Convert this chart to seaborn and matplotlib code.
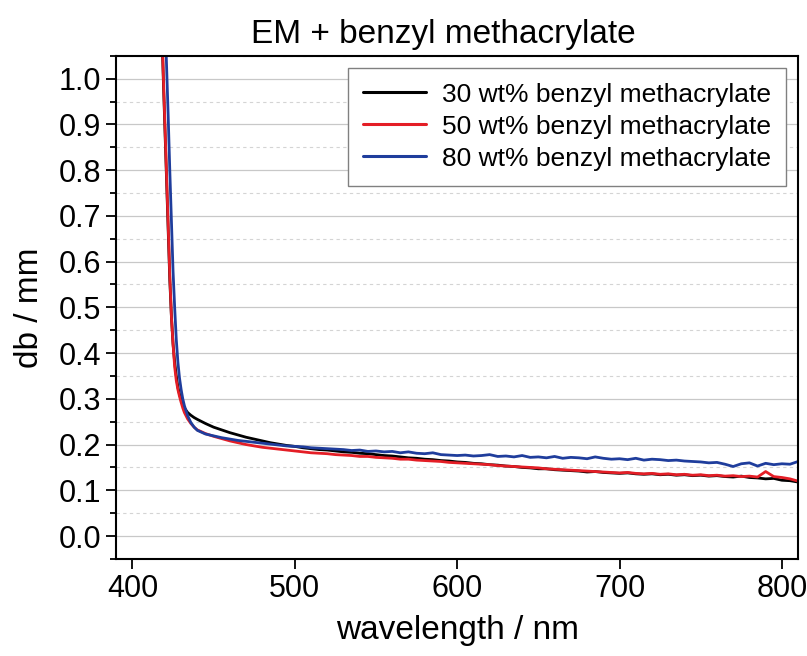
import matplotlib
matplotlib.use('Agg')

import numpy as np
import pandas as pd
import matplotlib.pyplot as plt
from matplotlib.ticker import MultipleLocator
import seaborn as sns

# Wavelength grid (nm): dense near the absorption edge, 5 nm steps afterwards
wavelength = [416, 418, 419, 420, 421, 422, 423, 424, 425, 426,
              427, 428, 429, 430, 431, 432, 434, 436, 438, 440,
              445, 450, 455, 460, 465, 470, 475, 480, 485, 490,
              495, 500] + list(range(505, 815, 5))

# 30 wt% benzyl methacrylate
db_30 = [1.40, 1.12, 1.00, 0.89, 0.78, 0.67, 0.56, 0.48, 0.42, 0.38,
         0.35, 0.325, 0.31, 0.298, 0.288, 0.280, 0.270, 0.264, 0.259, 0.255,
         0.246, 0.238, 0.232, 0.226, 0.221, 0.216, 0.212, 0.208, 0.204, 0.201,
         0.198, 0.196,
         0.193, 0.191, 0.189, 0.188, 0.186, 0.184, 0.183, 0.181, 0.180, 0.178,
         0.176, 0.175, 0.173, 0.171, 0.170, 0.168, 0.167, 0.165, 0.164, 0.162,
         0.161, 0.159, 0.158, 0.156, 0.155, 0.153, 0.152, 0.150, 0.149, 0.147,
         0.147, 0.145, 0.144, 0.143, 0.142, 0.140, 0.141, 0.139, 0.138, 0.137,
         0.138, 0.136, 0.135, 0.136, 0.134, 0.135, 0.133, 0.134, 0.132, 0.133,
         0.131, 0.132, 0.130, 0.129, 0.131, 0.128, 0.127, 0.125, 0.126, 0.122,
         0.121, 0.118]

# 50 wt% benzyl methacrylate
db_50 = [1.40, 1.13, 1.01, 0.90, 0.79, 0.68, 0.57, 0.48, 0.42, 0.37,
         0.34, 0.32, 0.305, 0.292, 0.280, 0.270, 0.256, 0.246, 0.238, 0.232,
         0.224, 0.218, 0.213, 0.208, 0.204, 0.200, 0.197, 0.194, 0.192, 0.190,
         0.188, 0.186,
         0.184, 0.182, 0.181, 0.180, 0.178, 0.177, 0.176, 0.174, 0.174, 0.172,
         0.171, 0.170, 0.168, 0.168, 0.166, 0.165, 0.164, 0.163, 0.161, 0.160,
         0.159, 0.158, 0.157, 0.156, 0.154, 0.153, 0.152, 0.151, 0.150, 0.149,
         0.147, 0.146, 0.145, 0.144, 0.143, 0.142, 0.141, 0.140, 0.139, 0.138,
         0.139, 0.137, 0.136, 0.137, 0.135, 0.136, 0.134, 0.135, 0.133, 0.134,
         0.132, 0.133, 0.131, 0.132, 0.130, 0.131, 0.129, 0.141, 0.130, 0.128,
         0.125, 0.120]

# 80 wt% benzyl methacrylate
db_80 = [1.60, 1.36, 1.25, 1.14, 1.03, 0.92, 0.80, 0.69, 0.58, 0.50,
         0.43, 0.38, 0.345, 0.32, 0.300, 0.285, 0.263, 0.248, 0.238, 0.231,
         0.223, 0.219, 0.215, 0.212, 0.209, 0.207, 0.205, 0.203, 0.201, 0.199,
         0.197, 0.196,
         0.195, 0.193, 0.192, 0.191, 0.190, 0.189, 0.187, 0.188, 0.185, 0.186,
         0.184, 0.185, 0.182, 0.184, 0.181, 0.180, 0.182, 0.178, 0.177, 0.176,
         0.177, 0.175, 0.176, 0.178, 0.174, 0.175, 0.173, 0.176, 0.172, 0.173,
         0.171, 0.174, 0.170, 0.172, 0.171, 0.169, 0.173, 0.170, 0.168, 0.169,
         0.167, 0.170, 0.166, 0.168, 0.167, 0.165, 0.166, 0.164, 0.163, 0.162,
         0.160, 0.161, 0.157, 0.152, 0.158, 0.160, 0.153, 0.159, 0.156, 0.158,
         0.157, 0.163]

series_labels = ["30 wt% benzyl methacrylate",
                 "50 wt% benzyl methacrylate",
                 "80 wt% benzyl methacrylate"]
series_colors = ["#000000", "#e41e26", "#1f3d9c"]

x_ticks = [400, 500, 600, 700, 800]
y_ticks = [0.0, 0.1, 0.2, 0.3, 0.4, 0.5, 0.6, 0.7, 0.8, 0.9, 1.0]


def build_frame():
    """Put the three spectra into one long table for seaborn."""
    wide = pd.DataFrame({'wavelength': wavelength,
                         series_labels[0]: db_30,
                         series_labels[1]: db_50,
                         series_labels[2]: db_80})
    return wide.melt(id_vars='wavelength', var_name='sample', value_name='db')


def plot_spectra(df):
    sns.set_style('white')
    plt.rcParams['font.family'] = ['Liberation Sans', 'DejaVu Sans']
    plt.rcParams['text.color'] = 'black'
    plt.rcParams['axes.labelcolor'] = 'black'
    plt.rcParams['xtick.color'] = 'black'
    plt.rcParams['ytick.color'] = 'black'

    fig, ax = plt.subplots(figsize=(8.07, 6.56), dpi=100)
    fig.subplots_adjust(left=0.144, right=0.989, top=0.915, bottom=0.148)

    sns.lineplot(data=df, x='wavelength', y='db', hue='sample',
                 hue_order=series_labels, palette=series_colors,
                 linewidth=2.0, ax=ax, sort=False, estimator=None)

    ax.set_xlim(390, 810)
    ax.set_ylim(-0.05, 1.05)
    ax.set_xticks(x_ticks)
    ax.set_yticks(y_ticks)
    ax.yaxis.set_minor_locator(MultipleLocator(0.05))
    ax.set_yticklabels([f'{v:.1f}' for v in y_ticks])

    # grid: solid at major, dashed at minor
    ax.grid(which='major', axis='y', color='#c8c8c8', linewidth=0.9, linestyle='-')
    ax.grid(which='minor', axis='y', color='#d4d4d4', linewidth=0.8, linestyle=(0, (3, 3)))
    ax.set_axisbelow(True)

    for side in ax.spines.values():
        side.set_linewidth(1.5)
        side.set_color('black')

    ax.tick_params(which='major', direction='out', length=7, width=1.3,
                   labelsize=22, pad=4, top=False, right=False, bottom=True, left=True)
    ax.tick_params(which='minor', axis='y', direction='out', length=4, width=1.3, left=True)

    ax.set_title('EM + benzyl methacrylate', fontsize=24, pad=9, x=0.479)
    ax.set_xlabel('wavelength / nm', fontsize=24, labelpad=8)
    ax.set_ylabel('db / mm', fontsize=24)
    ax.yaxis.set_label_coords(-0.104, 0.5)

    leg = ax.legend(loc='upper right', fontsize=19, frameon=True, fancybox=False,
                    framealpha=1, edgecolor='#808080', handlelength=2.4,
                    labelspacing=0.3, borderaxespad=0.45, borderpad=0.57,
                    handletextpad=0.6)
    leg.get_frame().set_linewidth(1.0)
    for line in leg.get_lines():
        line.set_linewidth(2.2)

    plt.savefig('out.png', dpi=100)
    plt.close()


if __name__ == "__main__":
    frame = build_frame()
    plot_spectra(frame)
